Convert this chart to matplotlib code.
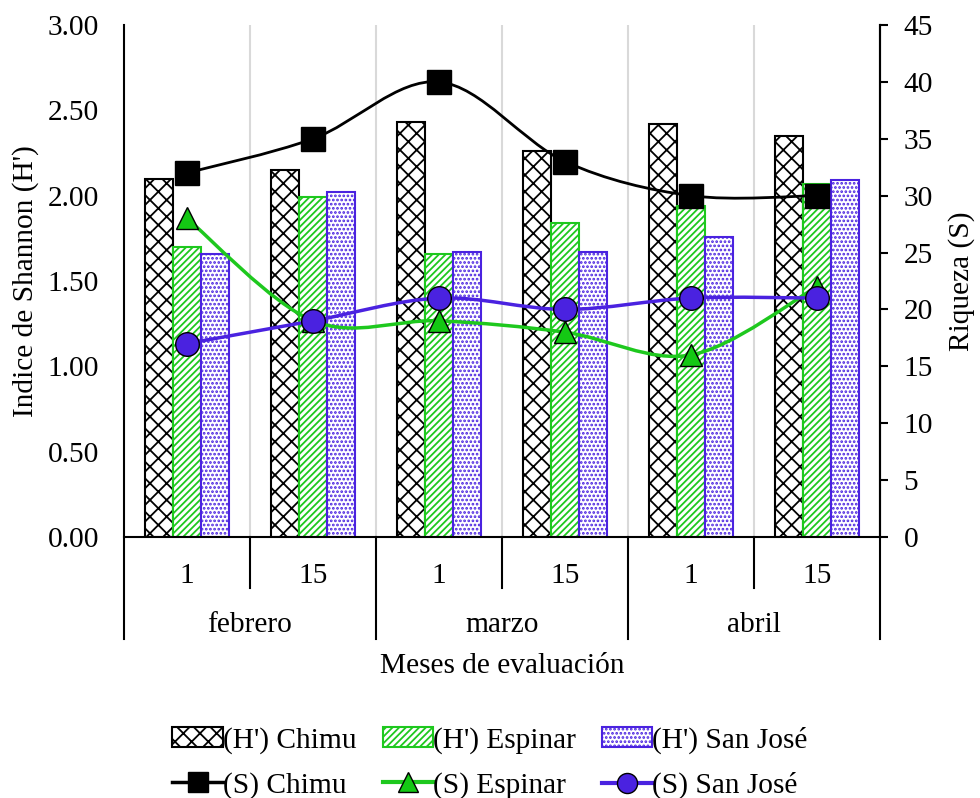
import matplotlib
matplotlib.use("Agg")
import matplotlib.pyplot as plt
from matplotlib.path import Path
from matplotlib.patches import PathPatch
from matplotlib.lines import Line2D
from matplotlib.transforms import blended_transform_factory

plt.rcParams["font.family"] = ["Liberation Serif", "DejaVu Serif"]
plt.rcParams["hatch.linewidth"] = 1.3

# --- datos ---
dias = ["1", "15", "1", "15", "1", "15"]
meses = ["febrero", "marzo", "abril"]

h_chimu = [2.10, 2.15, 2.43, 2.26, 2.42, 2.35]
h_espinar = [1.70, 1.99, 1.66, 1.84, 1.94, 2.07]
h_sanjose = [1.66, 2.02, 1.67, 1.67, 1.76, 2.09]

s_chimu = [32, 35, 40, 33, 30, 30]
s_espinar = [28, 19, 19, 18, 16, 22]
s_sanjose = [17, 19, 21, 20, 21, 21]

BLACK = "#000000"
GREEN = "#1ec81e"
BLUE = "#4a22e0"
FS = 21.2


def smooth_path(xs, ys):
    """curva suavizada tipo Excel (Catmull-Rom -> Bezier cúbica)."""
    pts = list(zip(xs, ys))
    n = len(pts)
    verts, codes = [pts[0]], [Path.MOVETO]
    for i in range(n - 1):
        p0 = pts[max(i - 1, 0)]
        p1, p2 = pts[i], pts[i + 1]
        p3 = pts[min(i + 2, n - 1)]
        c1 = (p1[0] + (p2[0] - p0[0]) / 6, p1[1] + (p2[1] - p0[1]) / 6)
        c2 = (p2[0] - (p3[0] - p1[0]) / 6, p2[1] - (p3[1] - p1[1]) / 6)
        verts += [c1, c2, p2]
        codes += [Path.CURVE4] * 3
    return Path(verts, codes)


fig = plt.figure(figsize=(9.8, 7.98), dpi=100, facecolor="white")
ax = fig.add_axes([124 / 980, 1 - 537 / 798, 756 / 980, 512 / 798])
ax2 = ax.twinx()

x = list(range(len(dias)))
w = 0.222
b1 = ax.bar([i - w for i in x], h_chimu, w, facecolor="white", edgecolor=BLACK,
            hatch="xx", linewidth=1.5, label="(H') Chimu", zorder=2)
b2 = ax.bar(x, h_espinar, w, facecolor="white", edgecolor=GREEN,
            hatch="/////", linewidth=1.5, label="(H') Espinar", zorder=2)
b3 = ax.bar([i + w for i in x], h_sanjose, w, facecolor="white", edgecolor=BLUE,
            hatch="....", linewidth=1.5, label="(H') San José", zorder=2)

ax.set_xlim(-0.5, 5.5)
ax.set_ylim(0, 3)
ax.set_yticks([0, 0.5, 1, 1.5, 2, 2.5, 3])
ax.set_yticklabels([f"{v:.2f}" for v in ax.get_yticks()])
ax.tick_params(axis="y", length=0, pad=18, labelsize=FS)
ax.set_xticks(x)
ax.set_xticklabels([])
ax.tick_params(axis="x", which="major", length=0)
ax.set_xticks([0.5, 1.5, 2.5, 3.5, 4.5], minor=True)
ax.tick_params(axis="x", which="minor", length=0)
ax.grid(which="minor", axis="x", color="#d9d9d9", linewidth=1.5, zorder=0)
ax.set_axisbelow(True)
for sp in ("top", "right"):
    ax.spines[sp].set_visible(False)
ax.spines["left"].set_visible(False)
ax.spines["bottom"].set_linewidth(1.5)

# líneas (S) en eje derecho
ax2.set_ylim(0, 45)
ax2.set_yticks(range(0, 46, 5))
ax2.tick_params(axis="y", length=6, width=1.5, pad=11, labelsize=FS)
for sp in ("top", "left", "bottom"):
    ax2.spines[sp].set_visible(False)
ax2.spines["right"].set_linewidth(1.5)

series = [
    (s_chimu, BLACK, "s", BLACK, 17, 2.0, "(S) Chimu"),
    (s_espinar, GREEN, "^", "#14c814", 16.5, 2.5, "(S) Espinar"),
    (s_sanjose, BLUE, "o", BLUE, 17, 2.5, "(S) San José"),
]
handles_s = []
for k, (ys, col, mk, mfc, ms, lw, lab) in enumerate(series):
    ax2.add_patch(PathPatch(smooth_path(x, ys), facecolor="none", edgecolor=col,
                            linewidth=lw, zorder=3 + k))
    ax2.plot(x, ys, linestyle="none", marker=mk, markersize=ms, markerfacecolor=mfc,
             markeredgecolor="black", markeredgewidth=1.0, zorder=3 + k)
    handles_s.append(Line2D([], [], color=col, linewidth=lw + 0.5, marker=mk,
                            markersize=ms * 0.85, markerfacecolor=mfc,
                            markeredgecolor="black", markeredgewidth=1.0))

# eje x multinivel
tr = blended_transform_factory(ax.transData, ax.transAxes)
for xb in (0.5, 2.5, 4.5):
    ax.add_line(Line2D([xb, xb], [0, -0.0996], transform=tr, color="black",
                       linewidth=1.5, clip_on=False))
for xb in (-0.5, 1.5, 3.5, 5.5):
    ax.add_line(Line2D([xb, xb], [-0.199, 1.0 if xb in (-0.5, 5.5) else 0],
                       transform=tr, color="black", linewidth=1.5, clip_on=False))
for i, d in enumerate(dias):
    ax.text(i, -0.076, d, transform=tr, ha="center", va="center", fontsize=FS)
for j, m in enumerate(meses):
    ax.text(2 * j + 0.5, -0.172, m, transform=tr, ha="center", va="center", fontsize=FS)

ax.set_xlabel("Meses de evaluación", fontsize=FS)
ax.xaxis.set_label_coords(0.5, -0.226)
ax.set_ylabel("Indice de Shannon (H')", fontsize=FS)
ax.yaxis.set_label_coords(-0.113, 0.5)
ax2.set_ylabel("Riqueza (S)", fontsize=FS)
ax2.yaxis.set_label_coords(1.09, 0.5)

handles = [b1, handles_s[0], b2, handles_s[1], b3, handles_s[2]]
labels = ["(H') Chimu", "(S) Chimu", "(H') Espinar", "(S) Espinar",
          "(H') San José", "(S) San José"]
fig.legend(handles, labels, ncol=3, loc="center", bbox_to_anchor=(490 / 980, 0.044),
           frameon=False, fontsize=FS, handlelength=1.7, handletextpad=0.0,
           columnspacing=0.9, labelspacing=0.62)

fig.savefig("out.png", dpi=100, facecolor="white")
